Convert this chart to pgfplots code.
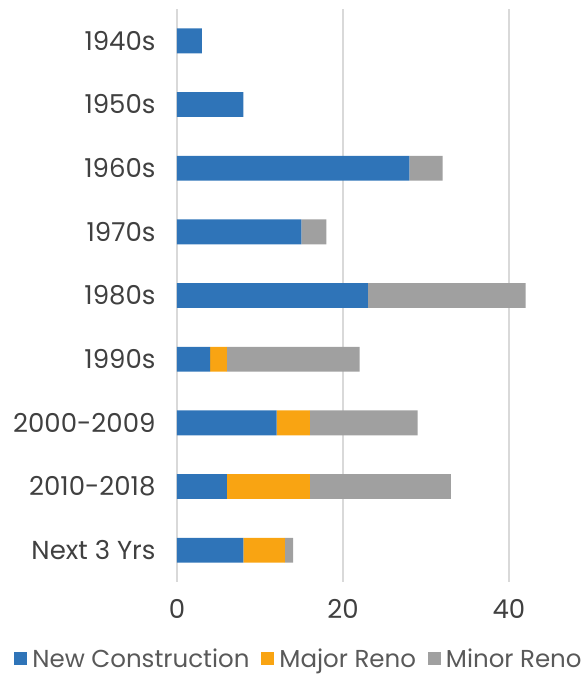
\documentclass[border=0pt]{standalone}
\usepackage{pgfplots}
\pgfplotsset{compat=1.18}
\usepackage{pgfplotstable}
\usepackage{fontspec}
\setmainfont{Poppins}
\definecolor{cblue}{HTML}{2F74B8}
\definecolor{corange}{HTML}{F9A412}
\definecolor{cgrey}{HTML}{A0A0A0}
\definecolor{cgrid}{HTML}{D9D9D9}
\definecolor{ctext}{HTML}{404040}
\definecolor{clegend}{HTML}{595959}
\pgfplotstableread{
idx new major minor
0 3 0 0
1 8 0 0
2 28 0 4
3 15 0 3
4 23 0 19
5 4 2 16
6 12 4 13
7 6 10 17
8 8 5 1
}\datatable
\begin{document}
\begin{tikzpicture}
\useasboundingbox (-177pt,-95pt) rectangle (410pt,582pt);
\begin{axis}[
  scale only axis,
  width=410pt, height=573pt,
  xbar stacked,
  bar width=0.39,
  xmin=0, xmax=49.4,
  ymin=-0.5, ymax=8.5,
  y dir=reverse,
  ytick={0,...,8},
  yticklabels={1940s,1950s,1960s,1970s,1980s,1990s,2000-2009,2010-2018,Next 3 Yrs},
  xtick={0,20,40},
  xmajorgrids,
  grid style={cgrid, line width=1.5pt},
  axis line style={draw=none},
  major tick length=0pt,
  tick label style={font=\fontsize{26}{30}\selectfont, text=ctext},
  yticklabel style={xshift=-18pt},
  xticklabel style={yshift=-14pt},
  /pgf/number format/assume math mode=true,
  legend style={at={(0.2976,-0.134)}, anchor=center, draw=none, fill=none,
    legend columns=3, font=\fontsize{24.5}{28}\selectfont, text=clegend,
    inner sep=0pt,
    /tikz/every even column/.append style={column sep=10pt}},
  legend image code/.code={\fill[#1] (0pt,-6.5pt) rectangle (13pt,6.5pt); \path (16pt,0pt);},
]
\addplot[fill=cblue, draw=none] table[x=new, y=idx] {\datatable};
\addplot[fill=corange, draw=none] table[x=major, y=idx] {\datatable};
\addplot[fill=cgrey, draw=none] table[x=minor, y=idx] {\datatable};
\legend{New Construction, Major Reno, Minor Reno}
\end{axis}
\end{tikzpicture}
\end{document}
